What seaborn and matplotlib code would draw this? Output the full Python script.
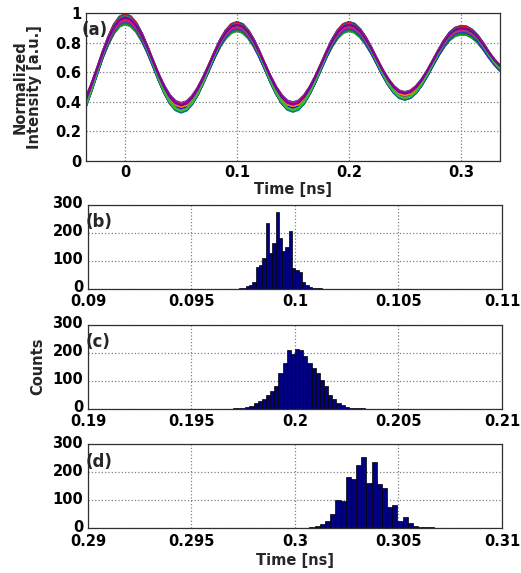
import numpy as np
import pandas as pd
import matplotlib
matplotlib.use("Agg")
import matplotlib.pyplot as plt
from matplotlib.transforms import ScaledTranslation
import seaborn as sns

# ---- panel (a): sampled waveform (centre of the bundle), 5 ps grid ----
t_start, t_step = -0.035, 0.005
center_trace = [0.40, 0.50, 0.61, 0.72, 0.815, 0.893, 0.943, 0.96,
                0.945, 0.903, 0.836, 0.753, 0.66, 0.567, 0.484, 0.417, 0.375, 0.36,
                0.373, 0.413, 0.473, 0.55, 0.635, 0.72, 0.797, 0.857, 0.897, 0.91,
                0.897, 0.858, 0.798, 0.722, 0.638, 0.553, 0.477, 0.417, 0.378, 0.365,
                0.378, 0.417, 0.477, 0.553, 0.638, 0.722, 0.798, 0.858, 0.897, 0.91,
                0.899, 0.865, 0.813, 0.748, 0.675, 0.602, 0.537, 0.485, 0.451, 0.44,
                0.451, 0.483, 0.532, 0.594, 0.663, 0.731, 0.793, 0.843, 0.874, 0.885,
                0.882, 0.862, 0.826, 0.776, 0.72, 0.67, 0.63]
# spread of the individual traces: level shift (a.u.) and swing factor
trace_offsets = [0.013, -0.007, 0.003, -0.015, 0.009, -0.002, 0.016, -0.011,
                 0.006, -0.017, 0.000, 0.008, -0.004, 0.014, -0.013, 0.004,
                 -0.009, 0.011, -0.001, 0.017, -0.014, 0.007, -0.005, 0.002,
                 -0.016, 0.010, -0.003, 0.015]
trace_gains = [0.94, 1.07, 0.92, 1.02, 1.08, 0.97, 1.04, 0.93,
               1.09, 1.00, 0.96, 1.05, 0.91, 1.03, 0.99, 1.08,
               0.94, 1.01, 1.06, 0.97, 1.04, 0.92, 1.09, 0.98,
               1.02, 0.95, 1.06, 0.99]
trace_colors = ["#0000ff", "#ff0000", "#00a000", "#00c0c0", "#c000c0", "#c8c800",
                "#202020", "#6a3d9a", "#008080", "#ff7f00", "#1f3fd4", "#e31a6c",
                "#33c02c", "#8000a0"]

# ---- panels (b)-(d): histograms of peak times ----
b_start, b_width = 0.0973, 0.00016
b_counts = [2, 4, 8, 14, 24, 78, 86, 108, 233, 126, 164, 275, 180,
            136, 150, 205, 73, 67, 61, 25, 13, 7, 4, 3, 2]
c_start, c_width = 0.197, 0.0002
c_counts = [2, 3, 4, 6, 10, 22, 26, 35, 48, 62, 82, 128, 165, 210, 195, 214,
            210, 188, 165, 146, 128, 104, 80, 50, 34, 22, 12, 7, 4, 3, 2, 1]
d_start, d_width = 0.2992, 0.00025
d_counts = [2, 0, 1, 1, 2, 3, 5, 9, 16, 28, 50, 102, 97, 183, 177, 228,
            255, 162, 236, 160, 145, 75, 82, 26, 42, 18, 8, 5, 5, 5]

hist_panels = [
    ("(b)", b_start, b_width, b_counts, (0.09, 0.11), [0.09, 0.095, 0.1, 0.105, 0.11],
     ["0.09", "0.095", "0.1", "0.105", "0.11"]),
    ("(c)", c_start, c_width, c_counts, (0.19, 0.21), [0.19, 0.195, 0.2, 0.205, 0.21],
     ["0.19", "0.195", "0.2", "0.205", "0.21"]),
    ("(d)", d_start, d_width, d_counts, (0.29, 0.31), [0.29, 0.295, 0.3, 0.305, 0.31],
     ["0.29", "0.295", "0.3", "0.305", "0.31"]),
]

sns.set_style("white")
plt.rcParams["font.family"] = ["DejaVu Sans"]
plt.rcParams["font.weight"] = "bold"
plt.rcParams["axes.labelweight"] = "bold"

fig = plt.figure(figsize=(5.21, 5.73), dpi=100)

TICK_FS = 10.5
grid_kw = dict(color="#808080", linestyle=":", linewidth=0.9)


def style_axes(ax, xpad=3):
    for s in ax.spines.values():
        s.set_color("#303030")
        s.set_linewidth(0.9)
    ax.tick_params(direction="in", length=3, width=0.8, labelsize=TICK_FS,
                   colors="black")
    ax.tick_params(axis="x", pad=xpad)
    for lab in ax.get_xticklabels() + ax.get_yticklabels():
        lab.set_fontweight("bold")


# panel (a)
ax_a = fig.add_axes([0.165, 0.719, 0.7946, 0.2578])
times = np.round(t_start + t_step * np.arange(len(center_trace)), 4)
rows = []
for k, (off, g) in enumerate(zip(trace_offsets, trace_gains)):
    for t, v in zip(times, center_trace):
        rows.append({"time": t, "intensity": 0.65 + g * (v - 0.65) + off,
                     "trace": f"tr{k:02d}"})
df_a = pd.DataFrame(rows)
palette = {f"tr{k:02d}": trace_colors[k % len(trace_colors)] for k in range(len(trace_offsets))}
ax_a.set_axisbelow(True)
ax_a.grid(True, **grid_kw)
sns.lineplot(data=df_a, x="time", y="intensity", hue="trace", palette=palette,
             legend=False, linewidth=1.8, estimator=None, sort=False, ax=ax_a)
ax_a.set_xlim(-0.035, 0.335)
ax_a.set_ylim(0, 1)
ax_a.set_xticks([0, 0.1, 0.2, 0.3])
ax_a.set_xticklabels(["0", "0.1", "0.2", "0.3"])
ax_a.set_yticks([0, 0.2, 0.4, 0.6, 0.8, 1])
ax_a.set_yticklabels(["0", "0.2", "0.4", "0.6", "0.8", "1"])
ax_a.set_xlabel("Time [ns]", fontsize=TICK_FS, fontweight="bold", labelpad=1)
ax_a.set_ylabel("Normalized\nIntensity [a.u.]", fontsize=TICK_FS, fontweight="bold",
                labelpad=9, linespacing=1.0)
style_axes(ax_a)
ax_a.text(-0.01, 0.89, "(a)", transform=ax_a.transAxes, fontsize=12,
          fontweight="bold", ha="left", va="center")

hist_bottoms = [0.4962, 0.2867, 0.0778]
lift = ScaledTranslation(0, 2 / 72, fig.dpi_scale_trans)
for (label, start, width, counts, xlim, ticks, ticklabels), bottom in zip(hist_panels, hist_bottoms):
    ax = fig.add_axes([0.1689, bottom, 0.7946, 0.1466])
    n = len(counts)
    df_h = pd.DataFrame({"time": start + width * (np.arange(n) + 0.5), "count": counts})
    ax.set_axisbelow(True)
    ax.grid(True, **grid_kw)
    sns.histplot(data=df_h, x="time", weights="count", binwidth=width,
                 binrange=(start, start + width * n), color="#000080",
                 edgecolor="black", linewidth=0.5, alpha=1.0, ax=ax)
    ax.set_xlim(*xlim)
    ax.set_ylim(0, 300)
    ax.set_xticks(ticks)
    ax.set_xticklabels(ticklabels)
    ax.set_yticks([0, 100, 200, 300])
    ax.set_yticklabels(["0", "100", "200", "300"])
    ax.set_ylabel("")
    ax.set_xlabel("")
    style_axes(ax, xpad=4)
    for lab in ax.get_yticklabels():
        lab.set_transform(lab.get_transform() + lift)
    ax.text(-0.005, 0.79, label, transform=ax.transAxes, fontsize=12,
            fontweight="bold", ha="left", va="center")
    if label == "(c)":
        ax.set_ylabel("Counts", fontsize=TICK_FS, fontweight="bold", labelpad=5)
    if label == "(d)":
        ax.set_xlabel("Time [ns]", fontsize=TICK_FS, fontweight="bold", labelpad=3)

fig.savefig("out.png", dpi=100)
